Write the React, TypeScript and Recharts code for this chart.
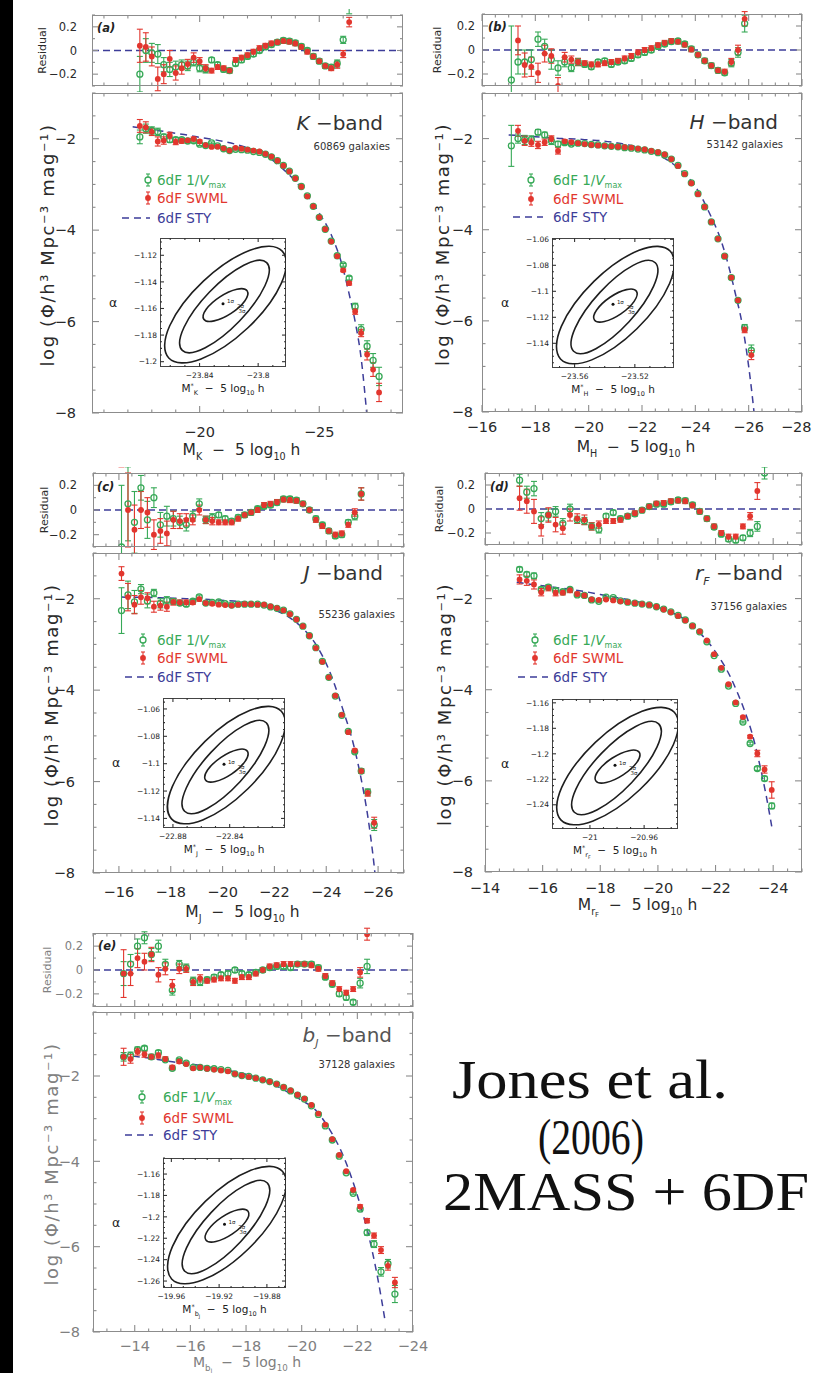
import React from 'react';
import { ComposedChart, Scatter, Line, XAxis, YAxis, ErrorBar, ReferenceLine } from 'recharts';

type Pair = [number, number];

// ---------- (a) K band ----------
const kMag = [-17.5, -17.75, -18, -18.25, -18.5, -18.75, -19, -19.25, -19.5, -19.75, -20, -20.25, -20.5, -20.75, -21, -21.25, -21.5, -21.75, -22, -22.25, -22.5, -22.75, -23, -23.25, -23.5, -23.75, -24, -24.25, -24.5, -24.75, -25, -25.25, -25.5, -25.75, -26, -26.25, -26.5, -26.75, -27, -27.25, -27.5];
const kSwml = [-1.72, -1.75, -1.85, -2.06, -2.04, -1.93, -2.07, -2.05, -2.035, -2.005, -2.06, -2.14, -2.18, -2.175, -2.21, -2.26, -2.2, -2.22, -2.24, -2.26, -2.28, -2.33, -2.39, -2.48, -2.59, -2.715, -2.87, -3.05, -3.26, -3.48, -3.72, -3.98, -4.25, -4.57, -4.88, -5.16, -5.78, -6.25, -6.72, -7.05, -7.55];
const kVmax = [-1.96, -1.78, -1.82, -1.85, -1.96, -2.02, -2.02, -2.02, -2.05, -2.045, -2.12, -2.15, -2.09, -2.155, -2.22, -2.26, -2.23, -2.24, -2.25, -2.28, -2.3, -2.34, -2.4, -2.48, -2.585, -2.71, -2.865, -3.045, -3.25, -3.48, -3.72, -3.98, -4.24, -4.56, -4.76, -5.05, -5.67, -6.17, -6.54, -6.85, -7.2];
const kErrS = [0.14, 0.12, 0.08, 0.1, 0.08, 0.07, 0.06, 0.05, 0.04, 0.04, 0.03, 0.03, 0.02, 0.02, 0.02, 0.02, 0.02, 0.02, 0.02, 0.02, 0.02, 0.02, 0.02, 0.02, 0.02, 0.02, 0.02, 0.02, 0.02, 0.02, 0.02, 0.02, 0.02, 0.03, 0.03, 0.04, 0.06, 0.08, 0.12, 0.15, 0.2];
const kErrV = [0.15, 0.1, 0.08, 0.08, 0.06, 0.06, 0.05, 0.04, 0.04, 0.03, 0.03, 0.03, 0.02, 0.02, 0.02, 0.02, 0.02, 0.02, 0.02, 0.02, 0.02, 0.02, 0.02, 0.02, 0.02, 0.02, 0.02, 0.02, 0.02, 0.02, 0.02, 0.02, 0.02, 0.03, 0.03, 0.04, 0.07, 0.1, 0.12, 0.15, 0.2];
const kResS = [0.04, 0.03, -0.05, -0.24, -0.2, -0.07, -0.19, -0.15, -0.115, -0.06, -0.09, -0.15, -0.17, -0.14, -0.15, -0.17, -0.08, -0.06, -0.04, -0.01, 0.02, 0.04, 0.06, 0.07, 0.08, 0.075, 0.06, 0.03, -0.01, -0.05, -0.09, -0.13, -0.15, -0.12, -0.03, 0.24, null, null, null, null, null];
const kResV = [-0.2, 0.0, -0.02, -0.03, -0.12, -0.16, -0.14, -0.12, -0.13, -0.1, -0.15, -0.16, -0.08, -0.12, -0.16, -0.17, -0.11, -0.08, -0.05, -0.03, 0.0, 0.03, 0.05, 0.07, 0.085, 0.08, 0.065, 0.035, 0.0, -0.05, -0.09, -0.13, -0.14, -0.11, 0.09, 0.35, null, null, null, null, null];
const kStyM = [-17.2, -17.5, -18, -18.5, -19, -19.5, -20, -20.5, -21, -21.5, -22, -22.5, -23, -23.5, -24, -24.5, -25, -25.5, -26, -26.25, -26.5, -26.75, -27];
const kStyV = [-1.74, -1.76, -1.8, -1.84, -1.88, -1.92, -1.97, -2.01, -2.06, -2.12, -2.2, -2.3, -2.45, -2.67, -2.93, -3.25, -3.63, -4.1, -4.85, -5.4, -6.0, -6.8, -8.1];
const kXLabels = [-20, -25];
const kOuter: Pair[] = [[-23.7794, -1.1125], [-23.7801, -1.1394], [-23.8055, -1.1766], [-23.8408, -1.2024], [-23.8652, -1.2016], [-23.8645, -1.1747], [-23.839, -1.1375], [-23.8038, -1.1118]];
const kMiddle: Pair[] = [[-23.7911, -1.1219], [-23.7924, -1.1412], [-23.8116, -1.1706], [-23.8375, -1.1929], [-23.8549, -1.1951], [-23.8536, -1.1758], [-23.8343, -1.1464], [-23.8084, -1.1241]];
const kInner: Pair[] = [[-23.8059, -1.1456], [-23.8077, -1.154], [-23.8181, -1.1643], [-23.8309, -1.1706], [-23.8387, -1.1693], [-23.8369, -1.1609], [-23.8265, -1.1506], [-23.8137, -1.1442]];
const kBest: Pair = [-23.824, -1.1565];
const kSig: [number, number, string][] = [[-23.8188, -1.1545, '1σ'], [-23.812, -1.1584, '2σ'], [-23.8111, -1.1623, '3σ']];

// ---------- (b) H band ----------
const hMag = [-17.1, -17.35, -17.6, -17.85, -18.1, -18.35, -18.6, -18.85, -19.1, -19.35, -19.6, -19.85, -20.1, -20.35, -20.6, -20.85, -21.1, -21.35, -21.6, -21.85, -22.1, -22.35, -22.6, -22.85, -23.1, -23.35, -23.6, -23.85, -24.1, -24.35, -24.6, -24.85, -25.1, -25.35, -25.6, -25.85, -26.1];
const hSwml = [null, -1.83, -2.05, -2.09, -2.14, -2.08, -2.0, -2.27, -2.06, -2.08, -2.1, -2.12, -2.14, -2.15, -2.16, -2.17, -2.18, -2.19, -2.2, -2.22, -2.24, -2.27, -2.3, -2.35, -2.45, -2.6, -2.78, -2.98, -3.22, -3.5, -3.83, -4.2, -4.58, -5.05, -5.55, -6.2, -6.75];
const hVmax = [-2.16, -2.0, -2.03, -2.02, -1.86, -1.92, -2.05, -2.12, -2.09, -2.12, -2.1, -2.11, -2.13, -2.14, -2.16, -2.17, -2.18, -2.2, -2.21, -2.23, -2.25, -2.28, -2.31, -2.36, -2.45, -2.59, -2.77, -2.97, -3.21, -3.5, -3.83, -4.2, -4.58, -5.05, -5.55, -6.15, -6.65];
const hErrS = [0.1, 0.12, 0.1, 0.08, 0.08, 0.07, 0.06, 0.07, 0.04, 0.03, 0.03, 0.02, 0.02, 0.02, 0.02, 0.02, 0.02, 0.02, 0.02, 0.02, 0.02, 0.02, 0.02, 0.02, 0.02, 0.02, 0.02, 0.02, 0.02, 0.02, 0.02, 0.02, 0.02, 0.03, 0.04, 0.06, 0.1];
const hErrV = [0.45, 0.1, 0.1, 0.08, 0.06, 0.06, 0.08, 0.06, 0.04, 0.03, 0.03, 0.02, 0.02, 0.02, 0.02, 0.02, 0.02, 0.02, 0.02, 0.02, 0.02, 0.02, 0.02, 0.02, 0.02, 0.02, 0.02, 0.02, 0.02, 0.02, 0.02, 0.02, 0.02, 0.03, 0.04, 0.07, 0.12];
const hResS = [null, 0.08, -0.125, -0.14, -0.19, -0.03, -0.05, -0.3, -0.06, -0.08, -0.1, -0.11, -0.12, -0.12, -0.11, -0.1, -0.09, -0.07, -0.05, -0.02, 0.0, 0.015, 0.04, 0.06, 0.075, 0.07, 0.045, 0.005, -0.04, -0.09, -0.13, -0.17, -0.18, -0.1, 0.0, 0.26, null];
const hResV = [-0.25, -0.1, -0.1, -0.08, 0.09, 0.03, -0.08, -0.15, -0.1, -0.15, -0.1, -0.12, -0.14, -0.1, -0.09, -0.12, -0.1, -0.09, -0.07, -0.04, -0.02, 0.0, 0.03, 0.05, 0.07, 0.075, 0.05, 0.01, -0.04, -0.09, -0.13, -0.17, -0.19, -0.11, -0.02, 0.22, null];
const hStyM = [-17.0, -17.5, -18, -18.5, -19, -19.5, -20, -20.5, -21, -21.5, -22, -22.5, -23, -23.5, -24, -24.5, -25, -25.25, -25.5, -25.75, -26, -26.2, -26.3];
const hStyV = [-1.92, -1.94, -1.96, -1.98, -2.0, -2.01, -2.03, -2.05, -2.09, -2.14, -2.22, -2.33, -2.49, -2.72, -3.05, -3.6, -4.3, -4.8, -5.4, -6.05, -7.0, -8.0, -8.6];
const hXLabels = [-16, -18, -20, -22, -24, -26, -28];
const hOuter: Pair[] = [[-23.4925, -1.0647], [-23.4931, -1.0924], [-23.5171, -1.1308], [-23.5503, -1.1573], [-23.5733, -1.1565], [-23.5727, -1.1288], [-23.5487, -1.0904], [-23.5155, -1.0639]];
const hMiddle: Pair[] = [[-23.5035, -1.0744], [-23.5047, -1.0943], [-23.5228, -1.1246], [-23.5472, -1.1476], [-23.5636, -1.1498], [-23.5624, -1.1299], [-23.5442, -1.0996], [-23.5198, -1.0766]];
const hInner: Pair[] = [[-23.5174, -1.0988], [-23.5191, -1.1074], [-23.5289, -1.1181], [-23.541, -1.1246], [-23.5484, -1.1232], [-23.5466, -1.1146], [-23.5368, -1.1039], [-23.5248, -1.0974]];
const hBest: Pair = [-23.5345, -1.11];
const hSig: [number, number, string][] = [[-23.5296, -1.108, '1σ'], [-23.5232, -1.112, '2σ'], [-23.5223, -1.116, '3σ']];

// ---------- (c) J band ----------
const jMag = [-16.1, -16.35, -16.6, -16.85, -17.1, -17.35, -17.6, -17.85, -18.1, -18.35, -18.6, -18.85, -19.1, -19.35, -19.6, -19.85, -20.1, -20.35, -20.6, -20.85, -21.1, -21.35, -21.6, -21.85, -22.1, -22.35, -22.6, -22.85, -23.1, -23.35, -23.6, -23.85, -24.1, -24.35, -24.6, -24.85, -25.1, -25.35, -25.6, -25.85];
const jSwml = [-1.45, -1.965, -2.13, -1.97, -1.99, -2.175, -2.15, -2.175, -2.07, -2.085, -2.08, -2.085, -2.01, -2.095, -2.11, -2.13, -2.14, -2.15, -2.13, -2.12, -2.12, -2.13, -2.13, -2.17, -2.205, -2.255, -2.34, -2.455, -2.6, -2.81, -3.08, -3.38, -3.72, -4.12, -4.54, -4.92, -5.32, -5.77, -6.25, -6.9];
const jVmax = [-2.26, -1.915, -2.07, -1.79, -2.05, -1.875, -2.1, -2.035, -2.06, -2.095, -2.12, -2.055, -1.96, -2.095, -2.08, -2.07, -2.11, -2.14, -2.12, -2.12, -2.12, -2.12, -2.14, -2.18, -2.21, -2.25, -2.33, -2.45, -2.6, -2.81, -3.07, -3.37, -3.72, -4.13, -4.55, -4.9, -5.35, -5.77, -6.23, -6.95];
const jErrS = [0.15, 0.3, 0.2, 0.15, 0.12, 0.12, 0.1, 0.1, 0.07, 0.06, 0.05, 0.04, 0.04, 0.03, 0.03, 0.02, 0.02, 0.02, 0.02, 0.02, 0.02, 0.02, 0.02, 0.02, 0.02, 0.02, 0.02, 0.02, 0.02, 0.02, 0.02, 0.02, 0.02, 0.02, 0.02, 0.02, 0.03, 0.05, 0.07, 0.12];
const jErrV = [0.5, 0.3, 0.25, 0.1, 0.15, 0.08, 0.1, 0.08, 0.06, 0.05, 0.05, 0.04, 0.04, 0.03, 0.03, 0.02, 0.02, 0.02, 0.02, 0.02, 0.02, 0.02, 0.02, 0.02, 0.02, 0.02, 0.02, 0.02, 0.02, 0.02, 0.02, 0.02, 0.02, 0.02, 0.02, 0.02, 0.03, 0.05, 0.07, 0.12];
const jResS = [0.5, 0.0, -0.16, 0.0, -0.02, -0.2, -0.17, -0.19, -0.08, -0.09, -0.08, -0.08, 0.0, -0.08, -0.09, -0.1, -0.1, -0.1, -0.07, -0.04, -0.02, 0.0, 0.04, 0.05, 0.065, 0.085, 0.08, 0.075, 0.05, 0.0, -0.08, -0.13, -0.17, -0.2, -0.19, -0.12, -0.02, 0.13, null, null];
const jResV = [-0.3, 0.05, -0.1, 0.18, -0.08, 0.1, -0.12, -0.05, -0.07, -0.1, -0.12, -0.05, 0.05, -0.08, -0.06, -0.04, -0.07, -0.09, -0.06, -0.04, -0.02, 0.01, 0.03, 0.04, 0.06, 0.09, 0.09, 0.08, 0.05, 0.0, -0.07, -0.12, -0.17, -0.21, -0.2, -0.1, -0.05, 0.13, null, null];
const jStyM = [-16.1, -16.6, -17.1, -17.6, -18.1, -18.6, -19.1, -19.6, -20.1, -20.6, -21.1, -21.6, -22.1, -22.6, -23.1, -23.6, -24.1, -24.6, -25.1, -25.35, -25.6, -25.85, -25.95];
const jStyV = [-1.96, -1.97, -1.97, -1.98, -1.99, -2.0, -2.01, -2.02, -2.04, -2.06, -2.1, -2.17, -2.27, -2.42, -2.65, -3.0, -3.55, -4.35, -5.3, -5.95, -6.75, -7.85, -8.4];
const jXLabels = [-16, -18, -20, -22, -24, -26];
const jOuter: Pair[] = [[-22.7994, -1.0574], [-22.8001, -1.0837], [-22.8255, -1.1202], [-22.8608, -1.1454], [-22.8852, -1.1446], [-22.8845, -1.1183], [-22.859, -1.0818], [-22.8238, -1.0567]];
const jMiddle: Pair[] = [[-22.8111, -1.0666], [-22.8124, -1.0855], [-22.8316, -1.1143], [-22.8575, -1.1362], [-22.8749, -1.1383], [-22.8736, -1.1194], [-22.8543, -1.0906], [-22.8284, -1.0687]];
const jInner: Pair[] = [[-22.8259, -1.0898], [-22.8277, -1.098], [-22.8381, -1.1081], [-22.8509, -1.1143], [-22.8587, -1.113], [-22.8569, -1.1048], [-22.8465, -1.0947], [-22.8337, -1.0885]];
const jBest: Pair = [-22.844, -1.1005];
const jSig: [number, number, string][] = [[-22.8388, -1.0985, '1σ'], [-22.832, -1.1023, '2σ'], [-22.8311, -1.1061, '3σ']];

// ---------- (d) rF band ----------
const rMag = [-15.2, -15.45, -15.7, -15.95, -16.2, -16.45, -16.7, -16.95, -17.2, -17.45, -17.7, -17.95, -18.2, -18.45, -18.7, -18.95, -19.2, -19.45, -19.7, -19.95, -20.2, -20.45, -20.7, -20.95, -21.2, -21.45, -21.7, -21.95, -22.2, -22.45, -22.7, -22.95, -23.2, -23.45, -23.7, -23.95];
const rSwml = [-1.58, -1.61, -1.69, -1.86, -1.77, -1.88, -1.87, -1.82, -1.9, -1.93, -2.02, -2.03, -2.02, -2.04, -2.06, -2.08, -2.1, -2.12, -2.14, -2.18, -2.24, -2.3, -2.38, -2.48, -2.6, -2.72, -2.92, -3.22, -3.52, -3.88, -4.28, -4.6, -5.03, -5.4, -5.75, -6.2];
const rVmax = [-1.36, -1.47, -1.5, -1.8, -1.75, -1.82, -1.85, -1.8, -1.92, -1.93, -2.03, -2.06, -1.97, -1.98, -2.05, -2.08, -2.1, -2.12, -2.14, -2.18, -2.23, -2.29, -2.37, -2.47, -2.6, -2.73, -2.95, -3.25, -3.55, -3.92, -4.3, -4.71, -5.18, -5.73, -5.95, -6.55];
const rErrS = [0.1, 0.1, 0.1, 0.08, 0.06, 0.06, 0.05, 0.05, 0.04, 0.04, 0.03, 0.03, 0.02, 0.02, 0.02, 0.02, 0.02, 0.02, 0.02, 0.02, 0.02, 0.02, 0.02, 0.02, 0.02, 0.02, 0.02, 0.02, 0.02, 0.02, 0.02, 0.02, 0.03, 0.07, 0.08, 0.18];
const rErrV = [0.05, 0.05, 0.06, 0.05, 0.05, 0.04, 0.04, 0.04, 0.03, 0.03, 0.03, 0.03, 0.02, 0.02, 0.02, 0.02, 0.02, 0.02, 0.02, 0.02, 0.02, 0.02, 0.02, 0.02, 0.02, 0.02, 0.02, 0.02, 0.02, 0.02, 0.02, 0.02, 0.03, 0.04, 0.05, 0.06];
const rResS = [0.09, 0.065, -0.02, -0.145, -0.05, -0.13, -0.16, -0.05, -0.08, -0.09, -0.145, -0.13, -0.1, -0.1, -0.09, -0.06, -0.035, -0.01, 0.02, 0.045, 0.05, 0.065, 0.07, 0.065, 0.03, -0.02, -0.08, -0.145, -0.2, -0.23, -0.23, -0.145, -0.06, 0.15, null, null];
const rResV = [0.24, 0.14, 0.17, -0.08, -0.05, -0.02, -0.12, 0.0, -0.09, -0.1, -0.145, -0.17, -0.06, -0.03, -0.08, -0.06, -0.04, -0.01, 0.02, 0.04, 0.04, 0.06, 0.075, 0.07, 0.035, -0.02, -0.08, -0.15, -0.21, -0.25, -0.26, -0.24, -0.2, -0.145, 0.3, null];
const rStyM = [-15.1, -15.5, -16, -16.5, -17, -17.5, -18, -18.5, -19, -19.5, -20, -20.5, -21, -21.5, -22, -22.5, -22.75, -23, -23.25, -23.5, -23.75, -23.95];
const rStyV = [-1.64, -1.68, -1.72, -1.76, -1.8, -1.85, -1.91, -1.97, -2.03, -2.1, -2.19, -2.31, -2.49, -2.78, -3.17, -3.7, -4.05, -4.45, -4.92, -5.55, -6.3, -7.0];
const rXLabels = [-14, -16, -18, -20, -22, -24];
const rOuter: Pair[] = [[-20.9332, -1.1628], [-20.934, -1.1911], [-20.9615, -1.2302], [-20.9996, -1.2573], [-21.026, -1.2564], [-21.0253, -1.2282], [-20.9978, -1.189], [-20.9596, -1.162]];
const rMiddle: Pair[] = [[-20.9459, -1.1727], [-20.9473, -1.193], [-20.9681, -1.2239], [-20.9961, -1.2474], [-21.0149, -1.2496], [-21.0135, -1.2293], [-20.9927, -1.1984], [-20.9647, -1.175]];
const rInner: Pair[] = [[-20.9619, -1.1976], [-20.9638, -1.2064], [-20.9751, -1.2173], [-20.9889, -1.2239], [-20.9974, -1.2225], [-20.9954, -1.2137], [-20.9842, -1.2028], [-20.9703, -1.1962]];
const rBest: Pair = [-20.9815, -1.209];
const rSig: [number, number, string][] = [[-20.9759, -1.207, '1σ'], [-20.9685, -1.2111, '2σ'], [-20.9675, -1.2151, '3σ']];

// ---------- (e) bJ band ----------
const bMag = [-13.6, -13.85, -14.1, -14.35, -14.6, -14.85, -15.1, -15.35, -15.6, -15.85, -16.1, -16.35, -16.6, -16.85, -17.1, -17.35, -17.6, -17.85, -18.1, -18.35, -18.6, -18.85, -19.1, -19.35, -19.6, -19.85, -20.1, -20.35, -20.6, -20.85, -21.1, -21.35, -21.6, -21.85, -22.1, -22.35, -22.6, -22.85, -23.1, -23.35];
const bSwml = [-1.55, -1.6, -1.43, -1.49, -1.55, -1.52, -1.6, -1.8, -1.66, -1.72, -1.82, -1.8, -1.83, -1.85, -1.87, -1.89, -1.95, -1.99, -2.02, -2.05, -2.09, -2.13, -2.19, -2.26, -2.34, -2.44, -2.53, -2.68, -2.88, -3.14, -3.48, -3.85, -4.23, -4.67, -5.06, -5.39, -5.74, -6.08, -6.45, -6.84];
const bVmax = [-1.55, -1.52, -1.38, -1.35, -1.55, -1.45, -1.62, -1.82, -1.62, -1.7, -1.8, -1.8, -1.82, -1.83, -1.85, -1.87, -1.95, -1.99, -2.01, -2.05, -2.09, -2.13, -2.19, -2.27, -2.35, -2.45, -2.54, -2.7, -2.9, -3.17, -3.5, -3.88, -4.27, -4.75, -5.12, -5.67, -5.94, -6.59, -6.4, -7.11];
const bErrS = [0.2, 0.1, 0.08, 0.07, 0.06, 0.06, 0.05, 0.05, 0.04, 0.03, 0.03, 0.03, 0.02, 0.02, 0.02, 0.02, 0.02, 0.02, 0.02, 0.02, 0.02, 0.02, 0.02, 0.02, 0.02, 0.02, 0.02, 0.02, 0.02, 0.02, 0.02, 0.02, 0.02, 0.02, 0.04, 0.05, 0.06, 0.08, 0.1, 0.12];
const bErrV = [0.1, 0.08, 0.06, 0.05, 0.05, 0.05, 0.04, 0.04, 0.03, 0.03, 0.03, 0.03, 0.02, 0.02, 0.02, 0.02, 0.02, 0.02, 0.02, 0.02, 0.02, 0.02, 0.02, 0.02, 0.02, 0.02, 0.02, 0.02, 0.02, 0.02, 0.02, 0.02, 0.02, 0.02, 0.04, 0.06, 0.08, 0.1, 0.1, 0.2];
const bResS = [-0.03, -0.03, 0.1, 0.07, 0.13, -0.04, 0.01, -0.13, 0.01, 0.01, -0.1, -0.07, -0.09, -0.08, -0.07, -0.07, -0.09, -0.06, -0.06, -0.03, 0.0, 0.03, 0.04, 0.05, 0.05, 0.05, 0.05, 0.04, 0.01, -0.05, -0.11, -0.16, -0.19, -0.16, -0.02, 0.3, null, null, null, null];
const bResV = [-0.03, 0.05, 0.2, 0.27, 0.13, 0.2, 0.05, -0.17, 0.05, 0.02, -0.09, -0.1, -0.08, -0.06, -0.04, -0.03, 0.0, -0.03, -0.04, -0.02, 0.0, 0.02, 0.03, 0.03, 0.02, 0.05, 0.05, 0.05, 0.02, -0.06, -0.12, -0.2, -0.23, -0.27, -0.11, 0.03, null, null, null, null];
const bStyM = [-13.5, -14, -14.5, -15, -15.5, -16, -16.5, -17, -17.5, -18, -18.5, -19, -19.5, -20, -20.5, -21, -21.5, -22, -22.5, -22.75, -23];
const bStyV = [-1.51, -1.54, -1.58, -1.63, -1.68, -1.72, -1.77, -1.83, -1.89, -1.96, -2.06, -2.2, -2.38, -2.57, -2.8, -3.25, -3.88, -4.8, -6.0, -6.8, -7.75];
const bXLabels = [-14, -16, -18, -20, -22, -24];
const bOuter: Pair[] = [[-19.862, -1.1519], [-19.8629, -1.1856], [-19.8934, -1.2322], [-19.9356, -1.2644], [-19.9648, -1.2635], [-19.964, -1.2298], [-19.9335, -1.1832], [-19.8913, -1.151]];
const bMiddle: Pair[] = [[-19.8761, -1.1637], [-19.8776, -1.1879], [-19.9007, -1.2247], [-19.9317, -1.2526], [-19.9525, -1.2553], [-19.9509, -1.2311], [-19.9279, -1.1943], [-19.8969, -1.1664]];
const bInner: Pair[] = [[-19.8938, -1.1934], [-19.8959, -1.2038], [-19.9084, -1.2168], [-19.9237, -1.2247], [-19.9331, -1.223], [-19.9309, -1.2126], [-19.9185, -1.1996], [-19.9031, -1.1917]];
const bBest: Pair = [-19.9155, -1.207];
const bSig: [number, number, string][] = [[-19.9093, -1.2045, '1σ'], [-19.9011, -1.2094, '2σ'], [-19.9, -1.2143, '3σ']];

const mainYLabels = [-2, -4, -6, -8];
const resYLabels = [-0.2, 0, 0.2];

// ---------- style ----------
const FS = '"DejaVu Sans", Verdana, sans-serif';
const GREEN = '#37a957';
const RED = '#e2362e';
const NAVY = '#3d3d99';
const FRAMEC = '#8c8c8c';
const PAGE_W = 813;

const fmt = (v: number) => (v < 0 ? '\u2212' + String(Math.abs(v)) : String(v));
const near = (a: number[], v: number) => a.some((m) => Math.abs(m - v) < 1e-6);
const ticksIn = (lo: number, hi: number, step: number) => {
  const out: number[] = [];
  for (let k = Math.ceil(lo / step - 1e-6); k * step <= hi + 1e-9; k++) out.push(+(k * step).toFixed(4));
  return out;
};
const toPts = (m: number[], v: (number | null)[], e: number[]) =>
  m.map((x, i) => ({ x, y: v[i], e: e[i] })).filter((p) => p.y !== null && p.y !== undefined);

type TickOpt = { size: number; majors: number[]; show: boolean; big: number; small: number; gap: number; fs: number; color: string; stroke: string; limit?: number };

const xTick = (o: TickOpt) => (p: any) => {
  const v = p.payload.value;
  const major = near(o.majors, v);
  const len = major ? o.big : o.small;
  const label = fmt(v);
  // keep a label that sits on the page edge inside the page
  const half = label.length * o.fs * 0.34;
  const tx = o.limit !== undefined ? Math.min(p.x, o.limit - half) : p.x;
  return (
    <g>
      <line x1={p.x} x2={p.x} y1={p.y} y2={p.y - len} stroke={o.stroke} strokeWidth={1.1} />
      <line x1={p.x} x2={p.x} y1={p.y - o.size} y2={p.y - o.size + len} stroke={o.stroke} strokeWidth={1.1} />
      {major && o.show && (
        <text x={tx} y={p.y + o.gap} textAnchor="middle" fontSize={o.fs} fill={o.color} fontFamily={FS}>
          {label}
        </text>
      )}
    </g>
  );
};

const yTick = (o: TickOpt) => (p: any) => {
  const v = p.payload.value;
  const major = near(o.majors, v);
  const len = major ? o.big : o.small;
  return (
    <g>
      <line x1={p.x} x2={p.x + len} y1={p.y} y2={p.y} stroke={o.stroke} strokeWidth={1.1} />
      <line x1={p.x + o.size} x2={p.x + o.size - len} y1={p.y} y2={p.y} stroke={o.stroke} strokeWidth={1.1} />
      {major && o.show && (
        <text x={p.x - o.gap} y={p.y} dy="0.36em" textAnchor="end" fontSize={o.fs} fill={o.color} fontFamily={FS}>
          {fmt(v)}
        </text>
      )}
    </g>
  );
};

const greenDot = (p: any) => <circle cx={p.cx} cy={p.cy} r={3} fill="none" stroke={GREEN} strokeWidth={1.3} />;
const redDot = (p: any) => <circle cx={p.cx} cy={p.cy} r={2.9} fill={RED} />;

type InsetCfg = {
  L: number; R: number; T: number; B: number; xDom: Pair; yDom: Pair; xLabels: number[]; yLabels: number[];
  outer: Pair[]; middle: Pair[]; inner: Pair[]; best: Pair; sig: [number, number, string][];
};

type PanelCfg = {
  L: number; R: number; rT: number; rB: number; mT: number; mB: number;
  xDom: Pair; xLabels: number[]; xMinor: number; yDom: Pair; rDom: Pair;
  mags: number[]; swml: (number | null)[]; vmax: (number | null)[]; errS: number[]; errV: number[];
  resS: (number | null)[]; resV: (number | null)[]; styM: number[]; styV: number[];
  yGap: number; rGap: number; yTitleX: number; rTitleX: number; xLabGap: number; xTitleY: number; xTitleFs: number;
  band: string; bandSub: string; bandX: number; bandY: number; gal: string; galX: number; galY: number;
  legX: number; legY: number[]; legTextX: number; dashX: Pair;
  letter: string; letterX: number; letterY: number; color: string; inset: InsetCfg;
};

const frameStyle = (l: number, t: number, w: number, h: number, c = FRAMEC, bg?: string): React.CSSProperties => ({
  position: 'absolute', left: l, top: t, width: w, height: h, border: `1.5px solid ${c}`, boxSizing: 'border-box', background: bg,
});

function MagLabel({ x, y, fs, col, band, sub, star }: { x: number; y: number; fs: number; col: string; band: string; sub: string; star?: boolean }) {
  const s = fs * 0.62;
  return (
    <text x={x} y={y} textAnchor="middle" fontSize={fs} fill={col} fontFamily={FS} style={{ whiteSpace: 'pre' }}>
      M
      {star ? <tspan dy={-0.4 * fs} fontSize={s}>*</tspan> : null}
      <tspan dy={star ? 0.7 * fs : 0.3 * fs} fontSize={s}>{band}</tspan>
      {sub ? <tspan dy={0.15 * fs} fontSize={fs * 0.45}>{sub}</tspan> : null}
      <tspan dy={sub ? -0.45 * fs : -0.3 * fs}>{'  \u2212  5 log'}</tspan>
      <tspan dy={0.3 * fs} fontSize={s}>10</tspan>
      <tspan dy={-0.3 * fs}>{' h'}</tspan>
    </text>
  );
}

function Inset({ s, band, sub }: { s: InsetCfg; band: string; sub: string }) {
  const W = s.R - s.L;
  const H = s.B - s.T;
  const YW = 34, MT = 4, MR = 8, XH = 20;
  const rings = [s.outer, s.middle, s.inner].map((r) => r.map(([x, y]) => ({ x, y })));
  const ink = '#333';
  const opt = { big: 4, small: 2, fs: 7.5, color: '#222', stroke: ink };
  return (
    <>
      <div style={frameStyle(s.L, s.T, W, H, '#444', '#fff')} />
      <div style={{ position: 'absolute', left: s.L - YW, top: s.T - MT }}>
        <ComposedChart width={YW + W + MR} height={MT + H + XH} margin={{ top: MT, right: MR, bottom: 0, left: 0 }}>
          <XAxis xAxisId="x" dataKey="x" type="number" domain={s.xDom} allowDataOverflow ticks={ticksIn(s.xDom[0], s.xDom[1], 0.01)} interval={0}
            height={XH} axisLine={false} tickLine={false} tickSize={0} tickMargin={0}
            tick={xTick({ ...opt, size: H, majors: s.xLabels, show: true, gap: 11 })} />
          <YAxis yAxisId="y" dataKey="y" type="number" domain={s.yDom} allowDataOverflow ticks={ticksIn(s.yDom[0], s.yDom[1], 0.005)} interval={0}
            width={YW} axisLine={false} tickLine={false} tickSize={0} tickMargin={0}
            tick={yTick({ ...opt, size: W, majors: s.yLabels, show: true, gap: 3 })} />
          {rings.map((r, i) => (
            <Line key={i} xAxisId="x" yAxisId="y" data={r} dataKey="y" type="basisClosed" stroke="#1e1e1e" strokeWidth={1.6} dot={false} isAnimationActive={false} />
          ))}
          <Scatter xAxisId="x" yAxisId="y" data={[{ x: s.best[0], y: s.best[1] }]} isAnimationActive={false}
            shape={(p: any) => <circle cx={p.cx} cy={p.cy} r={1.5} fill="#111" />} />
          <Scatter xAxisId="x" yAxisId="y" data={s.sig.map(([x, y, t]) => ({ x, y, t }))} isAnimationActive={false}
            shape={(p: any) => <text x={p.cx} y={p.cy} fontSize={5.5} fill="#222" fontFamily={FS} textAnchor="middle" dy="0.35em">{p.payload.t}</text>} />
        </ComposedChart>
      </div>
      <svg width={813} height={1373} style={{ position: 'absolute', left: 0, top: 0, pointerEvents: 'none' }}>
        <text x={s.L - 47} y={(s.T + s.B) / 2} dy="0.35em" textAnchor="middle" fontSize={12.5} fill="#222" fontFamily={FS}>α</text>
        <MagLabel x={(s.L + s.R) / 2} y={s.B + 25} fs={10.5} col="#222" band={band} sub={sub} star />
      </svg>
    </>
  );
}

function Panel({ c }: { c: PanelCfg }) {
  const W = c.R - c.L;
  const Hr = c.rB - c.rT;
  const Hm = c.mB - c.mT;
  const YW = 70, MT = 6, MR = 24;
  const green = toPts(c.mags, c.vmax, c.errV);
  const red = toPts(c.mags, c.swml, c.errS);
  const gRes = toPts(c.mags, c.resV, c.errV);
  const rRes = toPts(c.mags, c.resS, c.errS);
  const sty = c.styM.map((m, i) => ({ x: m, y: c.styV[i] }));
  const xTicks = ticksIn(c.xDom[0], c.xDom[1], c.xMinor);
  const col = c.color;
  const base = { big: 7, small: 3.5, color: col, stroke: FRAMEC };
  const limit = PAGE_W - 2 - (c.L - YW);
  const series = (g: any[], r: any[]) => [
    <Scatter key="g" xAxisId="x" yAxisId="y" data={g} isAnimationActive={false} shape={greenDot}>
      <ErrorBar dataKey="e" direction="y" width={3} stroke={GREEN} strokeWidth={1.1} isAnimationActive={false} />
    </Scatter>,
    <Scatter key="r" xAxisId="x" yAxisId="y" data={r} isAnimationActive={false} shape={redDot}>
      <ErrorBar dataKey="e" direction="y" width={3} stroke={RED} strokeWidth={1.1} isAnimationActive={false} />
    </Scatter>,
  ];
  const ly = c.legY;
  return (
    <>
      <div style={{ position: 'absolute', left: c.L - YW, top: c.rT - MT }}>
        <ComposedChart width={YW + W + MR} height={MT + Hr + 6} margin={{ top: MT, right: MR, bottom: 0, left: 0 }}>
          <XAxis xAxisId="x" dataKey="x" type="number" domain={c.xDom} reversed allowDataOverflow ticks={xTicks} interval={0}
            height={6} axisLine={false} tickLine={false} tickSize={0} tickMargin={0}
            tick={xTick({ ...base, size: Hr, majors: c.xLabels, show: false, gap: 0, fs: 12 })} />
          <YAxis yAxisId="y" dataKey="y" type="number" domain={c.rDom} allowDataOverflow ticks={ticksIn(-0.3, 0.3, 0.1)} interval={0}
            width={YW} axisLine={false} tickLine={false} tickSize={0} tickMargin={0}
            tick={yTick({ ...base, big: 6, small: 3, size: W, majors: resYLabels, show: true, gap: c.rGap, fs: 11.5 })} />
          <ReferenceLine xAxisId="x" yAxisId="y" y={0} stroke={NAVY} strokeDasharray="7 4" strokeWidth={1.4} />
          {series(gRes, rRes)}
        </ComposedChart>
      </div>
      <div style={frameStyle(c.L, c.rT, W, Hr)} />

      <div style={{ position: 'absolute', left: c.L - YW, top: c.mT - MT }}>
        <ComposedChart width={YW + W + MR} height={MT + Hm + 30} margin={{ top: MT, right: MR, bottom: 0, left: 0 }}>
          <XAxis xAxisId="x" dataKey="x" type="number" domain={c.xDom} reversed allowDataOverflow ticks={xTicks} interval={0}
            height={30} axisLine={false} tickLine={false} tickSize={0} tickMargin={0}
            tick={xTick({ ...base, size: Hm, majors: c.xLabels, show: true, gap: c.xLabGap, fs: 14.5, limit })} />
          <YAxis yAxisId="y" dataKey="y" type="number" domain={c.yDom} allowDataOverflow ticks={ticksIn(c.yDom[0], c.yDom[1], 0.5)} interval={0}
            width={YW} axisLine={false} tickLine={false} tickSize={0} tickMargin={0}
            tick={yTick({ ...base, size: W, majors: mainYLabels, show: true, gap: c.yGap, fs: 14.5 })} />
          <Line xAxisId="x" yAxisId="y" data={sty} dataKey="y" type="monotone" stroke={NAVY} strokeWidth={1.5} strokeDasharray="7 5" dot={false} isAnimationActive={false} />
          {series(green, red)}
        </ComposedChart>
      </div>
      <div style={frameStyle(c.L, c.mT, W, Hm)} />

      <Inset s={c.inset} band={c.band} sub={c.bandSub} />

      <svg width={813} height={1373} style={{ position: 'absolute', left: 0, top: 0, pointerEvents: 'none' }} fontFamily={FS}>
        <text transform={`translate(${c.yTitleX} ${(c.mT + c.mB) / 2 - 8}) rotate(-90)`} textAnchor="middle" dy="0.35em" fontSize={18} fill={col} letterSpacing={1.6}>
          log (Φ/h³ Mpc⁻³ mag⁻¹)
        </text>
        <text transform={`translate(${c.rTitleX} ${(c.rT + c.rB) / 2}) rotate(-90)`} textAnchor="middle" dy="0.35em" fontSize={11} fill={col}>
          Residual
        </text>
        <MagLabel x={(c.L + c.R) / 2 - 6} y={c.xTitleY} fs={c.xTitleFs} col={col} band={c.band} sub={c.bandSub} />
        <text x={c.letterX} y={c.letterY} fontSize={11.5} fontWeight="bold" fontStyle="italic" fill="#222">{c.letter}</text>
        <text x={c.bandX} y={c.bandY} textAnchor="end" fontSize={20} fill={c.color === DARK ? '#333' : '#555'} style={{ whiteSpace: 'pre' }}>
          <tspan fontStyle="italic">{c.band}</tspan>
          {c.bandSub ? <tspan fontStyle="italic" fontSize={11} dy={5}>{c.bandSub}</tspan> : null}
          <tspan dy={c.bandSub ? -5 : 0}>{' \u2212band'}</tspan>
        </text>
        <text x={c.galX} y={c.galY} textAnchor="end" fontSize={10} fill="#333">{c.gal}</text>

        <line x1={c.legX} x2={c.legX} y1={ly[0] - 6} y2={ly[0] + 6} stroke={GREEN} strokeWidth={1.1} />
        <line x1={c.legX - 2} x2={c.legX + 2} y1={ly[0] - 6} y2={ly[0] - 6} stroke={GREEN} strokeWidth={1.1} />
        <line x1={c.legX - 2} x2={c.legX + 2} y1={ly[0] + 6} y2={ly[0] + 6} stroke={GREEN} strokeWidth={1.1} />
        <circle cx={c.legX} cy={ly[0]} r={3} fill="#fff" stroke={GREEN} strokeWidth={1.3} />
        <text x={c.legTextX} y={ly[0]} dy="0.36em" fontSize={13.5} fill={GREEN}>
          6dF 1/<tspan fontStyle="italic">V</tspan><tspan fontSize={8} dy={3}>max</tspan>
        </text>
        <line x1={c.legX} x2={c.legX} y1={ly[1] - 6} y2={ly[1] + 6} stroke={RED} strokeWidth={1.1} />
        <line x1={c.legX - 2} x2={c.legX + 2} y1={ly[1] - 6} y2={ly[1] - 6} stroke={RED} strokeWidth={1.1} />
        <line x1={c.legX - 2} x2={c.legX + 2} y1={ly[1] + 6} y2={ly[1] + 6} stroke={RED} strokeWidth={1.1} />
        <circle cx={c.legX} cy={ly[1]} r={2.9} fill={RED} />
        <text x={c.legTextX} y={ly[1]} dy="0.36em" fontSize={13.5} fill={RED}>6dF SWML</text>
        <line x1={c.dashX[0]} x2={c.dashX[1]} y1={ly[2]} y2={ly[2]} stroke={NAVY} strokeWidth={1.5} strokeDasharray="7 5" />
        <text x={c.legTextX} y={ly[2]} dy="0.36em" fontSize={13.5} fill={NAVY}>6dF STY</text>
      </svg>
    </>
  );
}

const DARK = '#2a2a2a';

const panels: PanelCfg[] = [
  {
    L: 92, R: 403, rT: 15, rB: 86, mT: 93, mB: 413, xDom: [-28.5, -15.5], xLabels: kXLabels, xMinor: 1, yDom: [-8, -1], rDom: [-0.3, 0.3],
    mags: kMag, swml: kSwml, vmax: kVmax, errS: kErrS, errV: kErrV, resS: kResS, resV: kResV, styM: kStyM, styV: kStyV,
    yGap: 16, rGap: 15, yTitleX: 48, rTitleX: 42, xLabGap: 24, xTitleY: 455, xTitleFs: 15.5,
    band: 'K', bandSub: '', bandX: 383, bandY: 130, gal: '60869 galaxies', galX: 390, galY: 150,
    legX: 148, legY: [180, 198, 218], legTextX: 157, dashX: [122, 150], letter: '(a)', letterX: 97, letterY: 32, color: DARK,
    inset: { L: 160, R: 286, T: 238, B: 367, xDom: [-23.867, -23.781], yDom: [-1.204, -1.107], xLabels: [-23.84, -23.8], yLabels: [-1.12, -1.14, -1.16, -1.18, -1.2], outer: kOuter, middle: kMiddle, inner: kInner, best: kBest, sig: kSig },
  },
  {
    L: 482, R: 802, rT: 14, rB: 86, mT: 93, mB: 412, xDom: [-28, -16], xLabels: hXLabels, xMinor: 0.5, yDom: [-8, -1], rDom: [-0.3, 0.3],
    mags: hMag, swml: hSwml, vmax: hVmax, errS: hErrS, errV: hErrV, resS: hResS, resV: hResV, styM: hStyM, styV: hStyV,
    yGap: 9, rGap: 7, yTitleX: 443, rTitleX: 437, xLabGap: 20, xTitleY: 452, xTitleFs: 15.5,
    band: 'H', bandSub: '', bandX: 778, bandY: 129, gal: '53142 galaxies', galX: 783, galY: 148,
    legX: 531, legY: [180, 199, 217], legTextX: 553, dashX: [513, 543], letter: '(b)', letterX: 488, letterY: 31, color: DARK,
    inset: { L: 552, R: 674, T: 238, B: 368, xDom: [-23.575, -23.494], yDom: [-1.159, -1.059], xLabels: [-23.56, -23.52], yLabels: [-1.06, -1.08, -1.1, -1.12, -1.14], outer: hOuter, middle: hMiddle, inner: hInner, best: hBest, sig: hSig },
  },
  {
    L: 93, R: 404, rT: 473, rB: 547, mT: 553, mB: 873, xDom: [-27, -15], xLabels: jXLabels, xMinor: 0.5, yDom: [-8, -1], rDom: [-0.3, 0.3],
    mags: jMag, swml: jSwml, vmax: jVmax, errS: jErrS, errV: jErrV, resS: jResS, resV: jResV, styM: jStyM, styV: jStyV,
    yGap: 18, rGap: 16, yTitleX: 52, rTitleX: 44, xLabGap: 24, xTitleY: 917, xTitleFs: 15.5,
    band: 'J', bandSub: '', bandX: 383, bandY: 580, gal: '55236 galaxies', galX: 395, galY: 618,
    legX: 143, legY: [640, 658, 677], legTextX: 157, dashX: [125, 153], letter: '(c)', letterX: 97, letterY: 491, color: DARK,
    inset: { L: 163, R: 285, T: 698, B: 828, xDom: [-22.887, -22.801], yDom: [-1.147, -1.052], xLabels: [-22.88, -22.84], yLabels: [-1.06, -1.08, -1.1, -1.12, -1.14], outer: jOuter, middle: jMiddle, inner: jInner, best: jBest, sig: jSig },
  },
  {
    L: 485, R: 802, rT: 473, rB: 545, mT: 553, mB: 872, xDom: [-25, -14], xLabels: rXLabels, xMinor: 0.5, yDom: [-8, -1], rDom: [-0.3, 0.3],
    mags: rMag, swml: rSwml, vmax: rVmax, errS: rErrS, errV: rErrV, resS: rResS, resV: rResV, styM: rStyM, styV: rStyV,
    yGap: 12, rGap: 10, yTitleX: 445, rTitleX: 439, xLabGap: 21, xTitleY: 910, xTitleFs: 15.5,
    band: 'r', bandSub: 'F', bandX: 783, bandY: 580, gal: '37156 galaxies', galX: 787, galY: 610,
    legX: 535, legY: [640, 658, 677], legTextX: 553, dashX: [518, 548], letter: '(d)', letterX: 490, letterY: 491, color: DARK,
    inset: { L: 552, R: 678, T: 699, B: 829, xDom: [-21.028, -20.935], yDom: [-1.259, -1.157], xLabels: [-21, -20.96], yLabels: [-1.16, -1.18, -1.2, -1.22, -1.24], outer: rOuter, middle: rMiddle, inner: rInner, best: rBest, sig: rSig },
  },
  {
    L: 93, R: 413, rT: 933, rB: 1007, mT: 1012, mB: 1332, xDom: [-24, -12.5], xLabels: bXLabels, xMinor: 0.5, yDom: [-8, -0.5], rDom: [-0.31, 0.31],
    mags: bMag, swml: bSwml, vmax: bVmax, errS: bErrS, errV: bErrV, resS: bResS, resV: bResV, styM: bStyM, styV: bStyV,
    yGap: 13, rGap: 10, yTitleX: 52, rTitleX: 47, xLabGap: 19, xTitleY: 1367, xTitleFs: 14,
    band: 'b', bandSub: 'J', bandX: 392, bandY: 1042, gal: '37128 galaxies', galX: 395, galY: 1068,
    legX: 142, legY: [1097, 1118, 1135], legTextX: 163, dashX: [125, 153], letter: '(e)', letterX: 98, letterY: 950, color: '#808080',
    inset: { L: 163, R: 286, T: 1158, B: 1288, xDom: [-19.967, -19.864], yDom: [-1.2665, -1.145], xLabels: [-19.96, -19.92, -19.88], yLabels: [-1.16, -1.18, -1.2, -1.22, -1.24, -1.26], outer: bOuter, middle: bMiddle, inner: bInner, best: bBest, sig: bSig },
  },
];

const SERIF = '"Liberation Serif", "DejaVu Serif", serif';

export default function App() {
  return (
    <div style={{ position: 'absolute', left: 0, top: 0, width: 813, height: 1373, background: '#fff', overflow: 'hidden' }}>
      <div style={{ position: 'absolute', left: 0, top: 0, width: 13, height: 1373, background: '#000' }} />
      {panels.map((c, i) => (
        <Panel key={i} c={c} />
      ))}
      <svg width={813} height={1373} style={{ position: 'absolute', left: 0, top: 0, pointerEvents: 'none' }}>
        <g fontFamily={SERIF} fill="#111">
          <text x={452} y={1098} fontSize={54} textLength={276} lengthAdjust="spacingAndGlyphs">Jones et al.</text>
          <text x={538} y={1154} fontSize={50} textLength={106} lengthAdjust="spacingAndGlyphs">(2006)</text>
          <text x={443} y={1210} fontSize={54} textLength={366} lengthAdjust="spacingAndGlyphs">2MASS + 6DF</text>
        </g>
      </svg>
    </div>
  );
}
